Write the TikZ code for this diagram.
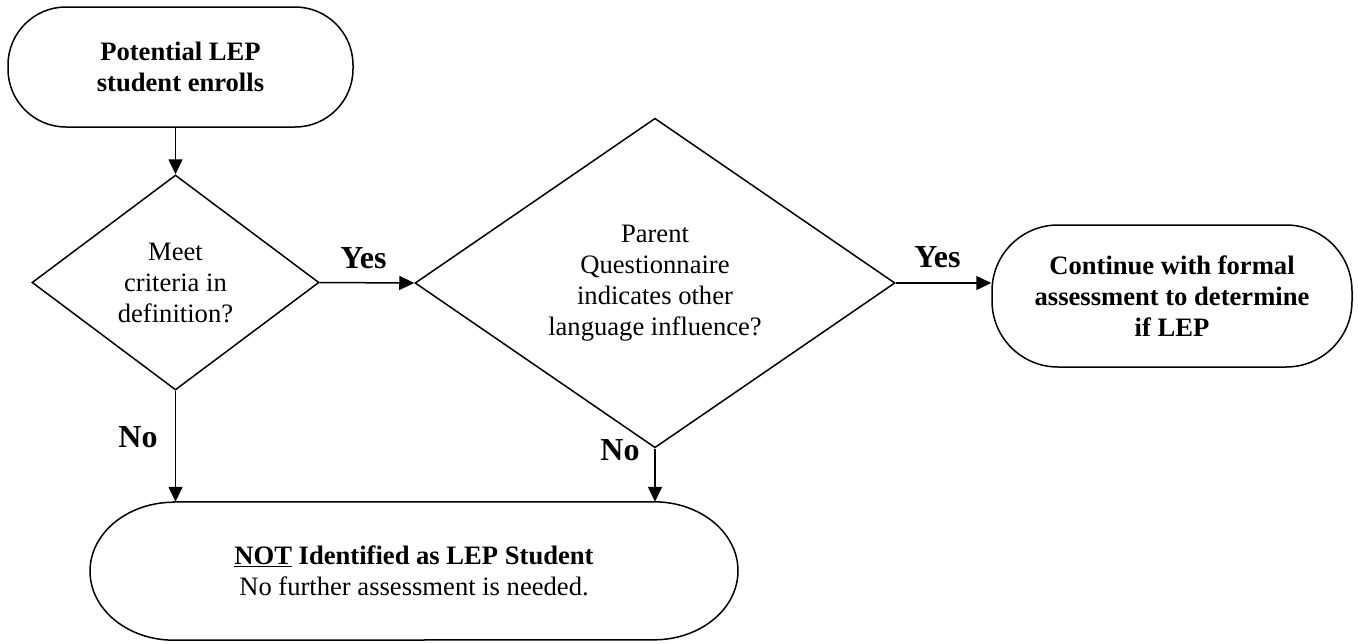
\documentclass[tikz,border=0pt]{standalone}
\usepackage{fontspec}
\setmainfont{Liberation Serif}
\usetikzlibrary{shapes.geometric,arrows.meta}
\tikzset{
  x=1pt,y=1pt,
  txt/.style={font=\fontsize{26.6}{31}\selectfont, align=center, inner sep=0pt},
  term/.style={txt, draw, line width=1.5pt, rounded corners=#1},
  dec/.style={txt, draw, line width=1.5pt, diamond, inner sep=0pt},
  lbl/.style={font=\fontsize{32}{36}\selectfont\bfseries, inner sep=0pt, anchor=base},
  conn/.style={line width=1.5pt, -{Triangle[length=15pt,width=14pt]}}
}
\begin{document}
\begin{tikzpicture}
\useasboundingbox (0,0) rectangle (1358,-643);
\node[term=58pt, minimum width=345pt, minimum height=120pt] (start) at (180.5,-67)
  {\bfseries Potential LEP\\\bfseries student enrolls};
\node[dec, minimum width=287pt, minimum height=215pt] (d1) at (175.5,-282.5)
  {Meet\\criteria in\\definition?};
\node[dec, minimum width=480pt, minimum height=264pt] (d2) at (655,-283)
  {Parent\\Questionnaire\\indicates other\\language influence?};
\node[term=66pt, minimum width=360pt, minimum height=142pt] (right) at (1172,-296)
  {\bfseries Continue with formal\\\bfseries assessment to determine\\\bfseries if LEP};
\node[txt, minimum width=648pt, minimum height=138pt] (bot) at (414,-571)
  {\textbf{\underline{NOT} Identified as LEP Student}\\No further assessment is needed.};
\draw[line width=1.5pt] ([xshift=-240pt]bot.north) -- ([xshift=240pt]bot.north)
  arc[start angle=90, end angle=-90, x radius=84pt, y radius=69pt]
  -- ([xshift=-240pt]bot.south)
  arc[start angle=270, end angle=90, x radius=84pt, y radius=69pt] -- cycle;
\draw[conn] (d1.north |- start.south) -- (d1.north);
\draw[conn] (d1.east) -- (d2.west);
\draw[conn] (d2.east) -- (d2.east -| right.west);
\draw[conn] (d1.south) -- (d1.south |- bot.north);
\draw[conn] (d2.south) -- (d2.south |- bot.north);
\node[lbl] (y1) at (363.5,-268) {Yes};
\node[lbl] (y2) at (937.5,-267) {Yes};
\node[lbl] (n1) at (138,-447) {No};
\node[lbl] (n2) at (620,-460) {No};
\end{tikzpicture}
\end{document}
